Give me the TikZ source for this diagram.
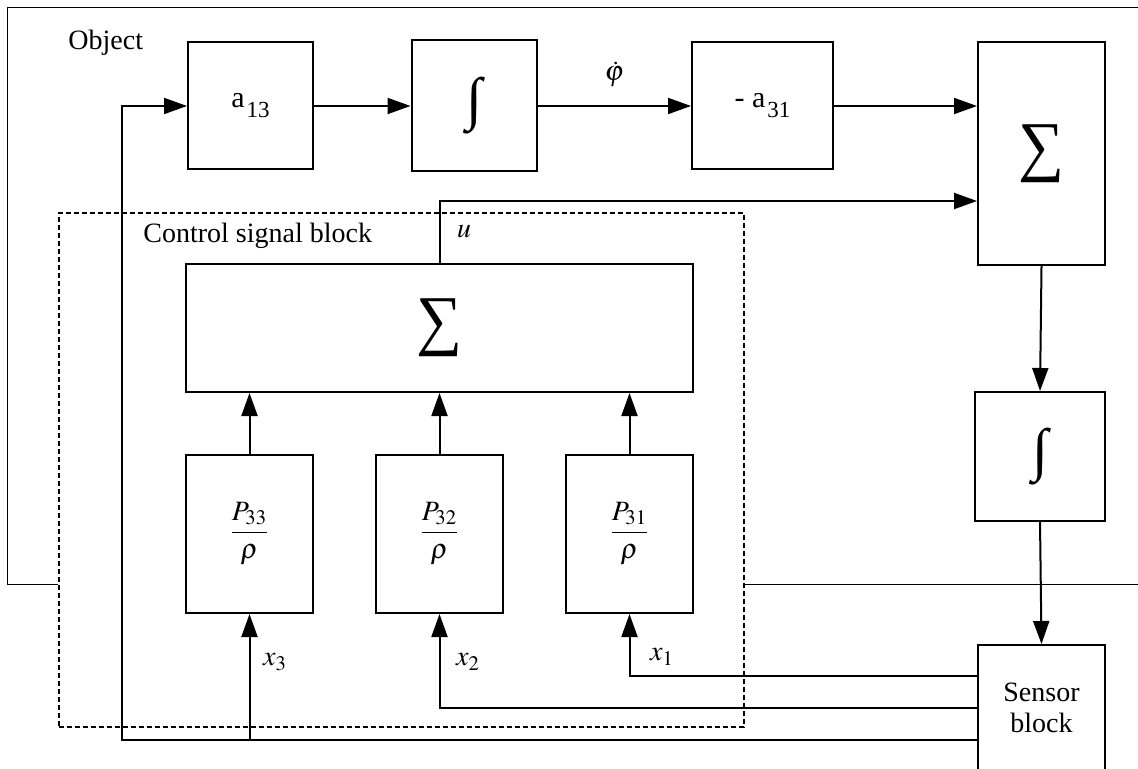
\documentclass[tikz,border=0pt]{standalone}
\usepackage{amsmath}
\usepackage{mathptmx}
\usepackage{fontspec}
\setmainfont{Liberation Serif}
\newfontfamily\serifrm{Liberation Serif}
\usepackage{graphicx}
\usetikzlibrary{arrows.meta,positioning}
\newcommand{\coefsub}[1]{\kern1pt\raisebox{-5pt}{\fontsize{11.5}{12}\selectfont #1}}
\newcommand{\sumsym}{\resizebox*{23pt}{29pt}{\serifrm ∑}}
\newcommand{\intsym}{\resizebox*{!}{28.5pt}{\serifrm ∫}}
\tikzset{
  base/.style={font=\serifrm\fontsize{14}{15.5}\selectfont, align=center, inner sep=2pt, text=black},
  box/.style={base, rectangle, draw, fill=white, line width=1pt, minimum width=62.5pt, minimum height=63.5pt},
  tall/.style={box, minimum width=63.5pt, minimum height=79pt},
  grp/.style={rectangle, draw, line width=0.9pt, dash pattern=on 2.5pt off 1.5pt},
  arr/.style={-{Triangle[length=11.5pt,width=8pt]}, line width=1pt},
  frame/.style={line width=0.5pt},
  lbl/.style={base, inner sep=0pt},
}
\begin{document}
\begin{tikzpicture}[x=0.5pt,y=-0.5pt]
  \useasboundingbox (0,0) rectangle (1138,769);
  % object frame and control signal block
  \node[grp, minimum width=342.5pt, minimum height=257pt] (csb) at (401.5,470) {};
  \coordinate (fbase) at (0,584);
  \draw[frame] (csb.west |- fbase) -- (7,584) -- (7,7.5) -- (1140,7.5);
  \draw[frame] (csb.east |- fbase) -- (1140,584);
  \node[lbl, anchor=base west] (objl) at (68,50) {Object};
  \node[lbl, anchor=base west] (csbl) at (143,243) {Control signal block};
  % forward path
  \node[box] (a13) at (250.5,106) {\fontsize{15}{16}\selectfont a\coefsub{13}};
  \node[box, minimum height=65.5pt] (i1) at (474,106) {\intsym};
  \node[box, minimum width=70.5pt] (na31) at (762.5,106) {\fontsize{15}{16}\selectfont - a\coefsub{31}};
  \node[box, minimum width=63.5pt, minimum height=111.5pt] (sr) at (1041.5,153.5) {\sumsym};
  \node[box, minimum width=65pt, minimum height=64.5pt] (ir) at (1040,456.5) {\intsym};
  \node[box, minimum width=63.5pt, minimum height=63pt] (sens) at (1041.5,708) {Sensor\\block};
  \draw[arr] (a13) -- (i1);
  \draw[arr] (i1) -- (na31) node[lbl, midway, above=9pt] {$\dot{\varphi}$};
  \draw[arr] (na31.east) -- (na31.east -| sr.west);
  \draw[arr] (sr.south) -- (ir.north);
  \draw[arr] (ir.south) -- (sens.north);
  % control signal
  \node[box, minimum width=253.5pt, minimum height=64pt] (sbig) at (439.5,328) {\sumsym};
  \foreach \k/\x in {33/249.5,32/439.5,31/629.5}{
    \node[tall] (p\k) at (\x,534) {$\dfrac{P_{\k}}{\rho}$};
    \draw[arr] (p\k.north) -- (p\k.north |- sbig.south);
  }
  \draw[arr] (sbig.north) |- ([yshift=-23.75pt]sr.west);
  \node[lbl] (ul) at (464,232) {$u$};
  % sensor outputs
  \coordinate (fbl) at (122,740);
  \draw[arr] ([yshift=16pt]sens.west) -| (p31.south);
  \draw[arr] (sens.west) -| (p32.south);
  \draw[arr] ([yshift=-16pt]sens.west) -- (fbl) -- (fbl |- a13.west) -- (a13.west);
  \draw[arr] (p33.south |- fbl) -- (p33.south);
  \node[lbl] (x1l) at (662,657) {$x_1$};
  \node[lbl] (x2l) at (468,662) {$x_2$};
  \node[lbl] (x3l) at (275,662) {$x_3$};
\end{tikzpicture}
\end{document}
